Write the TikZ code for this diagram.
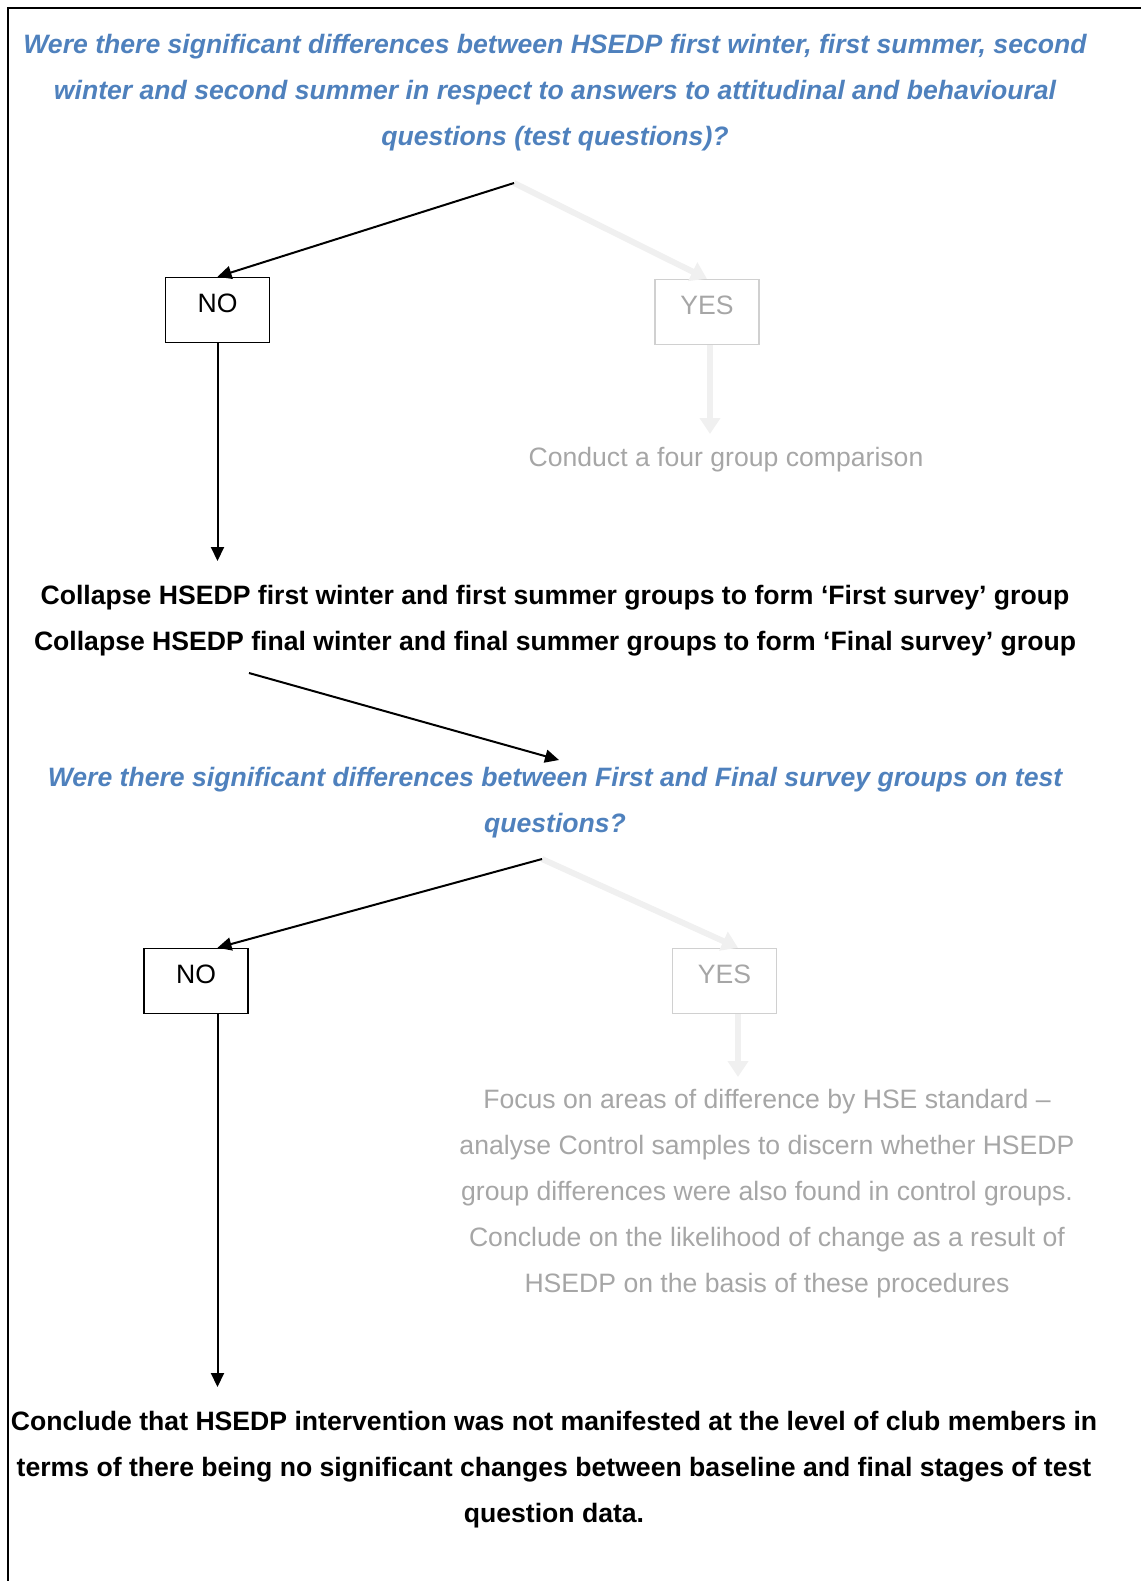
\documentclass[tikz,border=0pt]{standalone}
\usepackage{fontspec}
\setmainfont{Liberation Sans}
\usetikzlibrary{arrows.meta}
\definecolor{qblue}{HTML}{4F81BD}
\definecolor{fadegray}{HTML}{A6A6A6}
\definecolor{fadeline}{HTML}{D0D0D0}
\definecolor{fadearrow}{HTML}{F0F0F0}

\begin{document}
\begin{tikzpicture}[x=0.5pt,y=-0.5pt,>={Triangle[length=7pt,width=6.5pt]},line width=1pt]
\tikzstyle{every node}=[font=\fontsize{13.3}{23}\selectfont,align=center,inner sep=0pt]
\tikzstyle{question}=[text=qblue,font=\fontsize{13.3}{23}\selectfont\bfseries\itshape]
\tikzstyle{statement}=[font=\fontsize{13.3}{23}\selectfont\bfseries]
\tikzstyle{fadetext}=[text=fadegray]
\tikzstyle{answer}=[draw=black,line width=0.75pt,minimum width=52pt,minimum height=32.5pt,text height=17.25pt,text depth=15.25pt]
\tikzstyle{fadeanswer}=[answer,draw=fadeline,text=fadegray]
\tikzstyle{fadelink}=[draw=fadearrow,line width=3pt,-{Triangle[length=8pt,width=10pt,fill=fadearrow]}]
\useasboundingbox (0,0) rectangle (1141,1581);
\draw (8,1581) -- (8,8) -- (1141,8);

\node[question] (q1) at (555,92.5) {Were there significant differences between HSEDP first winter, first summer, second\\winter and second summer in respect to answers to attitudinal and behavioural\\questions (test questions)?};
\coordinate (split1) at (514,183);
\node[answer] (no1) at (217.5,310) {NO};
\node[fadeanswer] (yes1) at (707,312) {YES};
\coordinate (g1) at (710,434);
\node[fadetext] (four) at (726,459.5) {Conduct a four group comparison};
\coordinate (c1) at (217.5,561);
\node[statement] (collapse) at (555,620.5) {Collapse HSEDP first winter and first summer groups to form ‘First survey’ group\\Collapse HSEDP final winter and final summer groups to form ‘Final survey’ group};
\coordinate (c2s) at (249,673);
\coordinate (c2e) at (559,760);
\node[question] (q2) at (555,802.5) {Were there significant differences between First and Final survey groups on test\\questions?};
\coordinate (split2) at (542,859);
\node[answer] (no2) at (196,981) {NO};
\node[fadeanswer] (yes2) at (724.5,981) {YES};
\coordinate (g2) at (738,1077);
\node[fadetext] (focus) at (767,1193.5) {Focus on areas of difference by HSE standard –\\analyse Control samples to discern whether HSEDP\\group differences were also found in control groups.\\Conclude on the likelihood of change as a result of\\HSEDP on the basis of these procedures};
\coordinate (c3) at (217.5,1387);
\node[statement] (concl) at (554,1469.5) {Conclude that HSEDP intervention was not manifested at the level of club members in\\terms of there being no significant changes between baseline and final stages of test\\question data.};

% first question
\draw[fadelink] (split1) -- (yes1.north);
\draw[fadelink] (yes1.south -| g1) -- (g1);
\path[->] (split1) edge (no1.north)
  (no1.south) edge (c1)
  (c2s) edge (c2e);
% second question
\draw[fadelink] (split2) -- (yes2.north -| g2);
\draw[fadelink] (yes2.south -| g2) -- (g2);
\path[->] (split2) edge (no2.north -| no1.south)
  (no2.south -| no1.south) edge (c3);
\end{tikzpicture}
\end{document}
